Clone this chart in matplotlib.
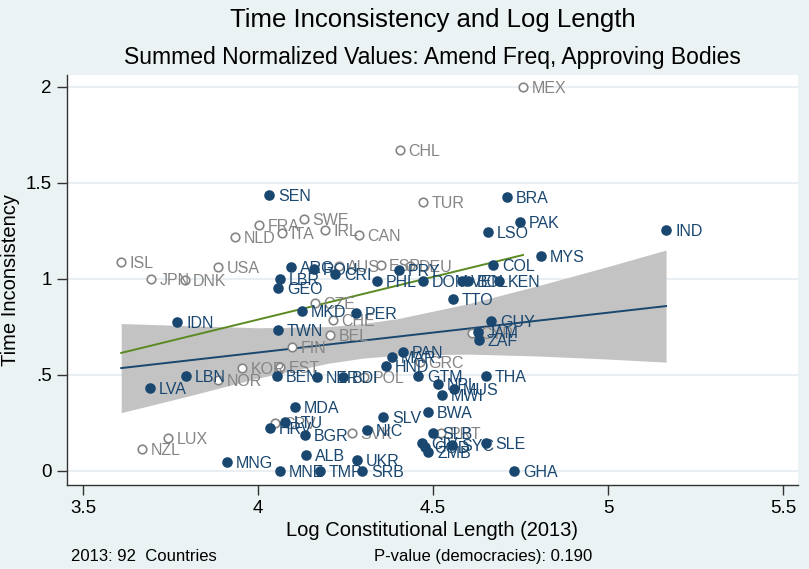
import matplotlib
matplotlib.use('Agg')
import matplotlib.pyplot as plt

plt.rcParams['font.family'] = ['Liberation Sans', 'DejaVu Sans']

# non-democracies (filled navy)
nd_code = ['SEN', 'BRA', 'PAK', 'LSO', 'IND', 'MYS', 'COL', 'PRY', 'PHL', 'DOM',
           'VEN', 'BOL', 'KEN', 'TTO', 'GUY', 'JAM', 'ZAF', 'PAN', 'MAR', 'HND',
           'GTM', 'THA', 'NPL', 'MUS', 'MWI', 'BWA', 'SLV', 'NIC', 'MDA', 'HRV',
           'LTU', 'BGR', 'ALB', 'UKR', 'MNG', 'MNE', 'TMP', 'SRB', 'GHA', 'SLE',
           'SLB', 'CIV', 'COD', 'ZMB', 'SYC', 'IDN', 'TWN', 'MKD', 'PER', 'LBN',
           'LVA', 'BEN', 'NER', 'BDI', 'ARG', 'ROU', 'CRI', 'LBR', 'GEO']
nd_len = [4.031, 4.711, 4.749, 4.657, 5.166, 4.809, 4.671, 4.403, 4.340, 4.471,
          4.583, 4.600, 4.689, 4.557, 4.666, 4.629, 4.631, 4.414, 4.383, 4.366,
          4.457, 4.651, 4.514, 4.560, 4.526, 4.486, 4.357, 4.311, 4.106, 4.034,
          4.077, 4.134, 4.137, 4.283, 3.911, 4.063, 4.177, 4.297, 4.731, 4.651,
          4.500, 4.469, 4.477, 4.486, 4.554, 3.769, 4.057, 4.126, 4.280, 3.794,
          3.691, 4.054, 4.169, 4.243, 4.094, 4.160, 4.220, 4.063, 4.057]
nd_ti = [1.438, 1.427, 1.297, 1.245, 1.255, 1.120, 1.073, 1.047, 0.990, 0.990,
         0.990, 0.990, 0.990, 0.896, 0.781, 0.724, 0.682, 0.620, 0.594, 0.547,
         0.495, 0.495, 0.453, 0.427, 0.396, 0.307, 0.281, 0.214, 0.333, 0.224,
         0.255, 0.188, 0.083, 0.057, 0.047, 0.0, 0.0, 0.0, 0.0, 0.146,
         0.198, 0.146, 0.125, 0.099, 0.135, 0.776, 0.734, 0.833, 0.823, 0.495,
         0.432, 0.495, 0.490, 0.490, 1.063, 1.052, 1.026, 1.000, 0.953]

# democracies (hollow grey)
dem_code = ['MEX', 'CHL', 'TUR', 'SWE', 'FRA', 'ITA', 'NLD', 'IRL', 'CAN', 'ISL',
            'JPN', 'DNK', 'USA', 'AUS', 'ESP', 'DEU', 'CZE', 'CHE', 'BEL', 'FIN',
            'NOR', 'KOR', 'EST', 'POL', 'GRC', 'CYP', 'CPV', 'SVK', 'PRT', 'LUX',
            'NZL']
dem_len = [4.757, 4.406, 4.471, 4.131, 4.003, 4.069, 3.934, 4.191, 4.289, 3.609,
           3.694, 3.791, 3.886, 4.231, 4.351, 4.434, 4.163, 4.214, 4.206, 4.097,
           3.886, 3.954, 4.063, 4.303, 4.463, 4.611, 4.049, 4.269, 4.523, 3.743,
           3.669]
dem_ti = [2.000, 1.672, 1.401, 1.313, 1.281, 1.240, 1.219, 1.255, 1.229, 1.089,
          1.000, 0.995, 1.063, 1.068, 1.073, 1.068, 0.875, 0.786, 0.708, 0.646,
          0.474, 0.536, 0.542, 0.490, 0.568, 0.719, 0.250, 0.198, 0.198, 0.172,
          0.115]

# fitted lines and confidence band
all_fit_x = [3.609, 5.166]
all_fit_y = [0.536, 0.859]
dem_fit_x = [3.609, 4.757]
dem_fit_y = [0.615, 1.125]
band_x = [3.609, 3.8, 4.0, 4.2, 4.3, 4.4, 4.6, 4.8, 5.0, 5.166]
band_lo = [0.304, 0.390, 0.484, 0.561, 0.588, 0.603, 0.609, 0.599, 0.583, 0.567]
band_hi = [0.768, 0.757, 0.746, 0.752, 0.768, 0.794, 0.871, 0.965, 1.065, 1.151]

xticks = [3.5, 4, 4.5, 5, 5.5]
xtick_labels = ['3.5', '4', '4.5', '5', '5.5']
yticks = [0, 0.5, 1, 1.5, 2]
ytick_labels = ['0', '.5', '1', '1.5', '2']

navy = '#1a476f'
grey = '#858585'
bg = '#eaf2f3'

fig = plt.figure(figsize=(8.09, 5.69), dpi=100, facecolor=bg)
ax = fig.add_axes([0.0828, 0.1476, 0.9036, 0.7206])
ax.set_facecolor('white')

for y in yticks:
    ax.axhline(y, color='#e1eaee', lw=1.1, zorder=0)

ax.fill_between(band_x, band_lo, band_hi, color='#c3c3c3', lw=0, zorder=1)
ax.plot(all_fit_x, all_fit_y, color=navy, lw=1.4, zorder=2)
ax.plot(dem_fit_x, dem_fit_y, color='#5b8a22', lw=1.4, zorder=2)

ax.scatter(dem_len, dem_ti, s=38, facecolors='white', edgecolors=grey,
           linewidths=1.2, zorder=3)
for c, x, y in zip(dem_code, dem_len, dem_ti):
    ax.annotate(c, (x, y), xytext=(6, 0), textcoords='offset points',
                ha='left', va='center_baseline', fontsize=11.5, color=grey, zorder=3)

ax.scatter(nd_len, nd_ti, s=58, color=navy, lw=0, zorder=4)
for c, x, y in zip(nd_code, nd_len, nd_ti):
    ax.annotate(c, (x, y), xytext=(6.5, 0), textcoords='offset points',
                ha='left', va='center_baseline', fontsize=11.5, color=navy, zorder=4)

ax.set_xlim(3.454, 5.543)
ax.set_ylim(-0.073, 2.0625)
ax.set_xticks(xticks)
ax.set_xticklabels(xtick_labels)
ax.set_yticks(yticks)
ax.set_yticklabels(ytick_labels)
ax.tick_params(axis='both', length=7, width=1, color='#333333', labelsize=13.5, pad=4)
for s in ['top', 'right']:
    ax.spines[s].set_visible(False)
for s in ['left', 'bottom']:
    ax.spines[s].set_color('#333333')
    ax.spines[s].set_linewidth(1)

ax.set_xlabel('Log Constitutional Length (2013)', fontsize=14.5, labelpad=3)
ax.set_ylabel('Time Inconsistency', fontsize=14.5)
ax.yaxis.set_label_coords(-0.064, 0.5)

fig.text(0.535, 0.964, 'Time Inconsistency and Log Length', ha='center', va='center',
         fontsize=18.5)
fig.text(0.535, 0.899, 'Summed Normalized Values: Amend Freq, Approving Bodies',
         ha='center', va='center', fontsize=16.5)
fig.text(0.088, 0.008, '2013: 92  Countries', ha='left', va='bottom', fontsize=12)
fig.text(0.462, 0.008, 'P-value (democracies): 0.190', ha='left', va='bottom', fontsize=12)

fig.savefig('out.png', dpi=100, facecolor=bg)
